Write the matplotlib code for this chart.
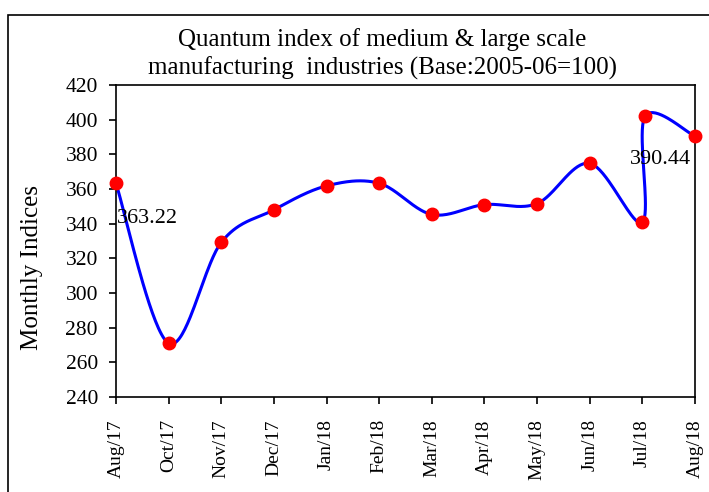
import matplotlib.pyplot as plt
import numpy as np
from matplotlib.patches import Rectangle

plt.rcParams["font.family"] = ["Liberation Serif", "DejaVu Serif"]

# categories on the x axis
months = ["Aug/17", "Oct/17", "Nov/17", "Dec/17", "Jan/18", "Feb/18",
          "Mar/18", "Apr/18", "May/18", "Jun/18", "Jul/18", "Aug/18"]

# point positions (category index) and values; Jul/18 appears twice
point_pos = [0, 1, 2, 3, 4, 5, 6, 7, 8, 9, 10, 10.05, 11]
point_val = [363.22, 271.0, 329.2, 348.0, 361.8, 363.3, 345.3, 351.0, 351.6,
             374.8, 340.8, 401.9, 390.44]

# data labels
label_idx = [0, 12]
label_text = ["363.22", "390.44"]


def smooth_curve(xs, ys, n=40):
    """Excel-like smoothed line (Catmull-Rom Bezier segments)."""
    px = np.asarray(xs, float)
    py = np.asarray(ys, float)
    px = np.concatenate([[px[0]], px, [px[-1]]])
    py = np.concatenate([[py[0]], py, [py[-1]]])
    out_x, out_y = [], []
    t = np.linspace(0, 1, n)
    for i in range(1, len(px) - 2):
        p0x, p1x, p2x, p3x = px[i - 1], px[i], px[i + 1], px[i + 2]
        p0y, p1y, p2y, p3y = py[i - 1], py[i], py[i + 1], py[i + 2]
        c1x = p1x + (p2x - p0x) / 6
        c1y = p1y + (p2y - p0y) / 6
        c2x = p2x - (p3x - p1x) / 6
        c2y = p2y - (p3y - p1y) / 6
        bx = ((1 - t) ** 3 * p1x + 3 * (1 - t) ** 2 * t * c1x
              + 3 * (1 - t) * t ** 2 * c2x + t ** 3 * p2x)
        by = ((1 - t) ** 3 * p1y + 3 * (1 - t) ** 2 * t * c1y
              + 3 * (1 - t) * t ** 2 * c2y + t ** 3 * p2y)
        out_x.extend(bx)
        out_y.extend(by)
    return np.array(out_x), np.array(out_y)


fig = plt.figure(figsize=(7.09, 4.92), dpi=100)
ax = fig.add_axes([116 / 709, 1 - 397 / 492, (695 - 116) / 709, (397 - 85) / 492])

# outer chart border
fig.patches.append(Rectangle((8 / 709, -0.01), 1.0, 1 - 15 / 492 + 0.01,
                             transform=fig.transFigure, fill=False,
                             edgecolor="black", linewidth=1.2))

sx, sy = smooth_curve(point_pos, point_val)
ax.plot(sx, sy, color="#0000ff", linewidth=2.2, clip_on=False, zorder=2)
ax.plot(point_pos, point_val, "o", color="#ff0000", markersize=9,
        clip_on=False, zorder=3)

for i, txt in zip(label_idx, label_text):
    if i == 0:
        ax.annotate(txt, (point_pos[i], point_val[i]), xytext=(1, -32),
                    textcoords="offset points", fontsize=16, ha="left", va="bottom")
    else:
        ax.annotate(txt, (point_pos[i], point_val[i]), xytext=(-3, -10),
                    textcoords="offset points", fontsize=16, ha="right", va="top")

ax.set_xlim(0, 11)
ax.set_ylim(240, 420)
ax.set_yticks(np.arange(240, 421, 20))
ax.set_xticks(range(len(months)))
ax.set_xticklabels(months, rotation=90)
ax.tick_params(axis="both", direction="out", length=5, width=1.2, labelsize=15.5)
ax.tick_params(axis="y", pad=8)
ax.tick_params(axis="x", labelsize=14, pad=11)
for sp in ax.spines.values():
    sp.set_linewidth(1.2)

ax.set_ylabel("Monthly Indices", fontsize=18)
ax.yaxis.set_label_coords(-(116 - 43) / 579, (397 - 268) / 312)
fig.text(382 / 709, 1 - 40 / 492, "Quantum index of medium & large scale",
         ha="center", va="center", fontsize=18)
fig.text(382 / 709, 1 - 68 / 492, "manufacturing  industries (Base:2005-06=100)",
         ha="center", va="center", fontsize=18)

fig.savefig("out.png", dpi=100)
